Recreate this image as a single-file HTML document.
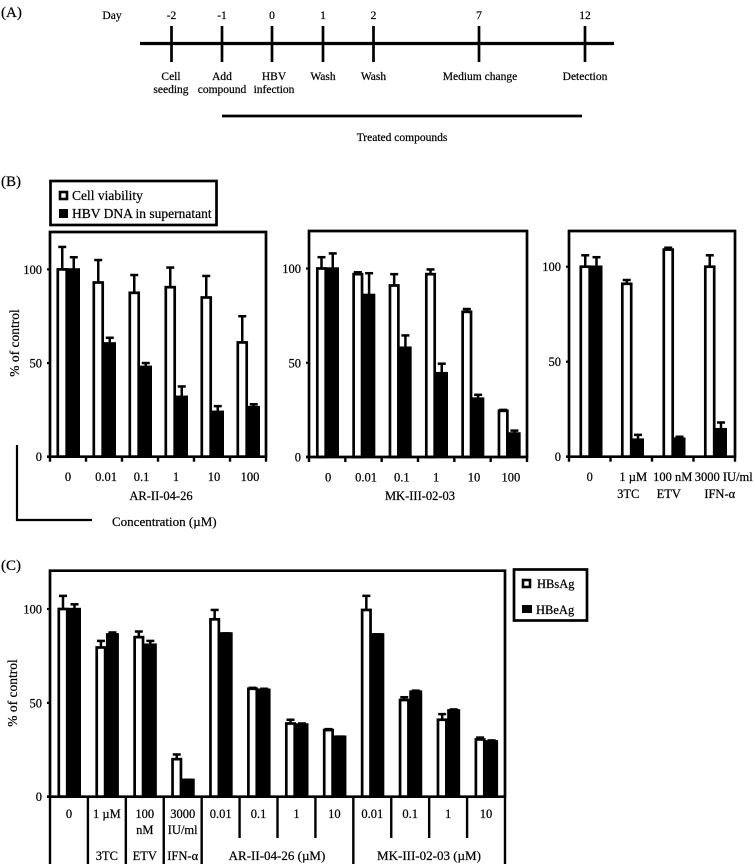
<!DOCTYPE html>
<html lang="en">
<head>
<meta charset="utf-8">
<title>HBV compound assay figure</title>
<style>
html,body{margin:0;padding:0;background:#fff;overflow:hidden;}
#figure{display:block;width:755px;height:864px;filter:blur(0.35px);}
text{font-family:"Liberation Serif","DejaVu Serif",serif;fill:#000;stroke:#000;stroke-width:0.22px;font-size:12.5px;}
.ln{stroke:#000;fill:none;}
.a{font-size:11.5px;}
</style>
</head>
<body>
<svg id="figure" xmlns="http://www.w3.org/2000/svg" width="755" height="864" viewBox="0 0 755 864">
  <g>
    <text x="1" y="17" style="font-size:15px">(A)</text>
    <text class="a" x="112" y="19" text-anchor="middle">Day</text>
    <text class="a" x="171.5" y="19" text-anchor="middle">-2</text>
    <text class="a" x="222" y="19" text-anchor="middle">-1</text>
    <text class="a" x="272" y="19" text-anchor="middle">0</text>
    <text class="a" x="323" y="19" text-anchor="middle">1</text>
    <text class="a" x="373.5" y="19" text-anchor="middle">2</text>
    <text class="a" x="479" y="19" text-anchor="middle">7</text>
    <text class="a" x="585" y="19" text-anchor="middle">12</text>
    <line class="ln" x1="140" x2="614" y1="43.5" y2="43.5" stroke-width="3.2"/>
    <line class="ln" x1="171.5" x2="171.5" y1="26" y2="62" stroke-width="2.7"/>
    <line class="ln" x1="222" x2="222" y1="26" y2="62" stroke-width="2.7"/>
    <line class="ln" x1="272" x2="272" y1="26" y2="62" stroke-width="2.7"/>
    <line class="ln" x1="323" x2="323" y1="26" y2="62" stroke-width="2.7"/>
    <line class="ln" x1="373.5" x2="373.5" y1="26" y2="62" stroke-width="2.7"/>
    <line class="ln" x1="479" x2="479" y1="26" y2="62" stroke-width="2.7"/>
    <line class="ln" x1="585" x2="585" y1="26" y2="62" stroke-width="2.7"/>
    <text class="a" x="171" y="80" text-anchor="middle">Cell</text>
    <text class="a" x="171" y="93" text-anchor="middle">seeding</text>
    <text class="a" x="222" y="80" text-anchor="middle">Add</text>
    <text class="a" x="222" y="93" text-anchor="middle">compound</text>
    <text class="a" x="274" y="80" text-anchor="middle">HBV</text>
    <text class="a" x="274" y="93" text-anchor="middle">infection</text>
    <text class="a" x="323" y="80" text-anchor="middle">Wash</text>
    <text class="a" x="373.5" y="80" text-anchor="middle">Wash</text>
    <text class="a" x="480" y="80" text-anchor="middle">Medium change</text>
    <text class="a" x="585" y="80" text-anchor="middle">Detection</text>
    <line class="ln" x1="222" x2="582" y1="116" y2="116" stroke-width="2.7"/>
    <text class="a" x="402" y="141" text-anchor="middle">Treated compounds</text>
  </g>

  <text x="1" y="186" style="font-size:15px">(B)</text>
  <g>
    <rect class="ln" x="50.5" y="181" width="166" height="44" stroke-width="2.7" fill="#fff"/>
    <rect x="60" y="192" width="7" height="7" fill="#fff" stroke="#000" stroke-width="2.6"/>
    <text x="72" y="200" style="font-size:13.5px">Cell viability</text>
    <rect x="59" y="209" width="9" height="9" fill="#000"/>
    <text x="72" y="218" style="font-size:13.5px">HBV DNA in supernatant</text>
  </g>
  <text transform="translate(19 343) rotate(-90)" text-anchor="middle" style="font-size:13.5px">% of control</text>
  <text x="161" y="500" text-anchor="middle">AR-II-04-26</text>
  <text x="420" y="500" text-anchor="middle">MK-III-02-03</text>
  <polyline class="ln" points="17,445 17,520 92,520" stroke-width="2.2"/>
  <text x="112" y="526" style="font-size:13px">Concentration (µM)</text>

  <text x="1" y="570" style="font-size:15px">(C)</text>
  <text transform="translate(17 693) rotate(-90)" text-anchor="middle" style="font-size:13.5px">% of control</text>
  <g>
    <rect class="ln" x="514" y="569.5" width="73" height="51" stroke-width="2.7" fill="#fff"/>
    <rect x="523" y="580" width="7" height="7" fill="#fff" stroke="#000" stroke-width="2.6"/>
    <text x="537" y="588">HBsAg</text>
    <rect x="522" y="605" width="10" height="8" fill="#000"/>
    <text x="536" y="614">HBeAg</text>
  </g>
  <text x="277" y="860" text-anchor="middle" style="font-size:13px">AR-II-04-26 (µM)</text>
  <text x="429" y="860" text-anchor="middle" style="font-size:13px">MK-III-02-03 (µM)</text>
  <g id="charts"></g>
</svg>
<script>
// ---- chart data ----
const yTickValues = [0, 50, 100];

const arCategories = ['0', '0.01', '0.1', '1', '10', '100'];
const arViability = [100, 93, 87.5, 90.5, 85, 61];
const arViabilityErrTop = [112, 105, 97, 101, 96.5, 75];
const arDna = [100, 60.5, 48, 32, 24, 26.5];
const arDnaErrTop = [106.5, 63.5, 50, 37.5, 27, 28];

const mkCategories = ['0', '0.01', '0.1', '1', '10', '100'];
const mkViability = [100, 97, 91, 97, 77, 24.5];
const mkViabilityErrTop = [106, 98, 97, 99.5, 78.5, 25];
const mkDna = [100, 86, 58, 44.5, 31, 12.5];
const mkDnaErrTop = [108, 97.5, 64.5, 49.5, 33, 14];

const ctrlCategories = ['0', '1 µM', '100 nM', '3000 IU/ml'];
const ctrlCategoriesLine2 = ['', '3TC', 'ETV', 'IFN-α'];
const ctrlViability = [100, 91, 109, 100];
const ctrlViabilityErrTop = [106, 93, 110, 106];
const ctrlDna = [100, 9, 9.5, 14.5];
const ctrlDnaErrTop = [105, 11.5, 10.5, 18];

const antigenCategories = ['0', '1 µM', '100', '3000', '0.01', '0.1', '1', '10', '0.01', '0.1', '1', '10'];
const antigenCategoriesLine2 = ['', '', 'nM', 'IU/ml', '', '', '', '', '', '', '', ''];
const antigenCategoriesLine3 = ['', '3TC', 'ETV', 'IFN-α', '', '', '', '', '', '', '', ''];
const hbsAg = [100, 79.5, 85, 20, 94.5, 57.5, 39, 35.5, 99.5, 51.5, 41, 30.5];
const hbsAgErrTop = [107, 83, 88, 22.5, 99.5, 58, 41, 36, 107, 53, 44, 31.5];
const hbeAg = [100, 86.5, 81, 9, 87, 57, 38.5, 32, 86.5, 56, 46, 29.5];
const hbeAgErrTop = [102.5, 87.5, 83, 9, 87, 57.5, 39, 32, 86.5, 56.5, 46.5, 30];

// ---- drawing ----
const NS = 'http://www.w3.org/2000/svg';
const root = document.getElementById('charts');

function make(parent, tag, attrs, txt) {
  const el = document.createElementNS(NS, tag);
  for (const k in attrs) el.setAttribute(k, attrs[k]);
  if (txt !== undefined) el.textContent = txt;
  parent.appendChild(el);
  return el;
}

function drawSeriesBar(g, x, w, value, errTop, yOf, base, hollow, name) {
  const s = make(g, 'line', {x1: x + w / 2, x2: x + w / 2, y1: yOf(value), y2: yOf(errTop), stroke: '#000', 'stroke-width': 2.5});
  
  
  const c = make(g, 'line', {x1: x + w / 2 - 4, x2: x + w / 2 + 4, y1: yOf(errTop), y2: yOf(errTop), stroke: '#000', 'stroke-width': 2.5});
  
  
  const y = yOf(value);
  const b = hollow
    ? make(g, 'rect', {x: x + 1.3, y: y, width: w - 2.6, height: base - y, fill: '#fff', stroke: '#000', 'stroke-width': 2.7})
    : make(g, 'rect', {x: x, y: y - 1.2, width: w, height: base - y + 1.2, fill: '#000'});
  
  
}

function drawChart(o) {
  const g = make(root, 'g', {});
  
  
  const yOf = v => o.y0 - v * o.unit;
  const xOf = i => o.left + i * (o.right - o.left) / o.categories.length;

  o.categories.forEach((cat, i) => {
    const gx = xOf(i);
    drawSeriesBar(g, gx + o.pad, o.whiteW, o.a[i], o.aErr[i], yOf, o.y0, true, o.name + '-' + o.aName + '-' + i);
    drawSeriesBar(g, gx + o.pad + o.whiteW - 0.5, o.blackW, o.b[i], o.bErr[i], yOf, o.y0, false, o.name + '-' + o.bName + '-' + i);
    const off = o.labelDx ? o.labelDx[i] : 0;
    const cx = gx + (o.right - o.left) / o.categories.length / 2 + off;
    const l1 = make(g, 'text', {x: cx, y: o.labelY, 'text-anchor': 'middle'}, cat);
    
    
    if (o.line2 && o.line2[i]) {
      const l2 = make(g, 'text', {x: cx + (o.line2Dx ? o.line2Dx[i] : 0), y: o.line2Y, 'text-anchor': 'middle'}, o.line2[i]);
      
      
    }
    if (o.line3 && o.line3[i]) {
      const l3 = make(g, 'text', {x: cx, y: o.line3Y, 'text-anchor': 'middle'}, o.line3[i]);
      
      
    }
  });

  // frame: left, top, right edges and baseline
  const f = make(g, 'path', {d: 'M' + o.left + ' ' + o.y0 + 'V' + o.top + 'H' + o.right + 'V' + o.y0 + 'H' + (o.left - 3), fill: 'none', stroke: '#000', 'stroke-width': 2.7});
  
  

  yTickValues.forEach(t => {
    const tk = make(g, 'line', {x1: o.left - 3, x2: o.left, y1: yOf(t), y2: yOf(t), stroke: '#000', 'stroke-width': 2.2});
    
    
    const lb = make(g, 'text', {x: o.left - 8, y: yOf(t) + 4.5, 'text-anchor': 'end'}, String(t));
    
    
  });

  for (let i = 0; i <= o.categories.length; i++) {
    const long = o.longSeps && o.longSeps.includes(i);
    const end = o.longSeps ? (long ? 864 : 838) : o.y0 + 5;
    const tk = make(g, 'line', {x1: xOf(i), x2: xOf(i), y1: o.y0, y2: end, stroke: '#000', 'stroke-width': 2.4});
    
    
  }
}

drawChart({name: 'chart-ar-ii-04-26', aName: 'cell-viability', bName: 'hbv-dna',
  categories: arCategories, a: arViability, aErr: arViabilityErrTop, b: arDna, bErr: arDnaErrTop,
  left: 50, right: 266, top: 232, y0: 456.7, unit: 1.873, pad: 6.5, whiteW: 11.5, blackW: 12.5, labelY: 481,
  labelDx: [0, 2, 1.5, 0, 2, 2]});
drawChart({name: 'chart-mk-iii-02-03', aName: 'cell-viability', bName: 'hbv-dna',
  categories: mkCategories, a: mkViability, aErr: mkViabilityErrTop, b: mkDna, bErr: mkDnaErrTop,
  left: 309, right: 527, top: 231, y0: 457, unit: 1.885, pad: 7, whiteW: 11, blackW: 12.5, labelY: 481.5,
  labelDx: [1, 2.5, 2, 0, 1.5, 2]});
drawChart({name: 'chart-controls', aName: 'cell-viability', bName: 'hbv-dna',
  categories: ctrlCategories, a: ctrlViability, aErr: ctrlViabilityErrTop, b: ctrlDna, bErr: ctrlDnaErrTop,
  left: 569, right: 735, top: 231, y0: 456.7, unit: 1.9, pad: 10.5, whiteW: 11.5, blackW: 12,
  labelY: 481, labelDx: [0, 2, 0, 9.5], line2: ctrlCategoriesLine2, line2Y: 498, line2Dx: [0, -5, -4, -4]});
drawChart({name: 'chart-antigens', aName: 'hbsag', bName: 'hbeag',
  categories: antigenCategories, a: hbsAg, aErr: hbsAgErrTop, b: hbeAg, bErr: hbeAgErrTop,
  left: 50, right: 505, top: 570.7, y0: 796.7, unit: 1.877, pad: 7.5, whiteW: 11, blackW: 13,
  labelY: 818, line2: antigenCategoriesLine2, line2Y: 834, line3: antigenCategoriesLine3, line3Y: 860,
  longSeps: [0, 1, 2, 3, 4, 8, 12]});
</script>
</body>
</html>
